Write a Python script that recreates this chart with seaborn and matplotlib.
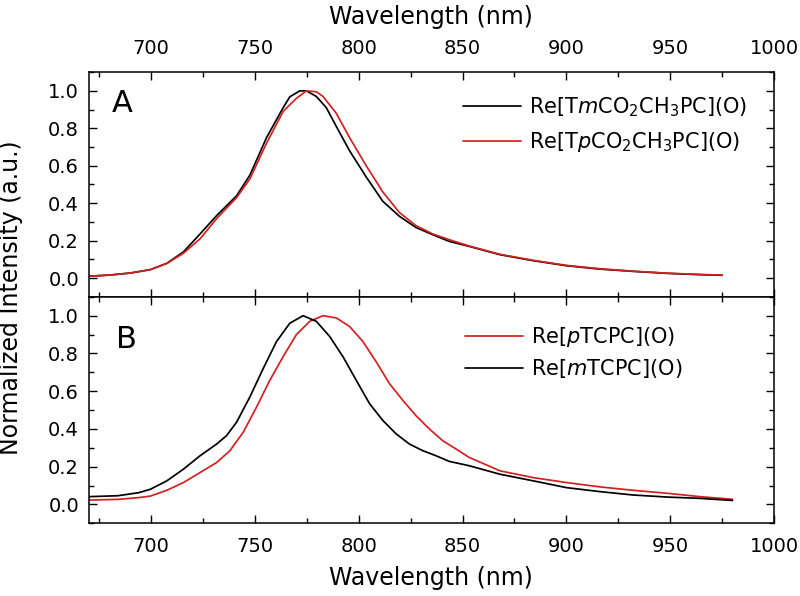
import matplotlib
matplotlib.use("Agg")
import matplotlib.pyplot as plt
from matplotlib.ticker import MultipleLocator, FormatStrFormatter
import seaborn as sns
import pandas as pd

# panel A: ester substituted corroles (normalized emission)
wl_a_meta = [670, 680, 690, 699.6, 707.6, 715.6, 723.6, 731.6, 741.2, 747.6, 755.6,
             763.6, 766.8, 771.6, 774.8, 779.6, 784.4, 789.2, 795.6, 803.6, 811.6,
             819.6, 827.6, 835.6, 843.6, 853, 868, 884, 900, 916, 932, 949, 965, 975]
int_a_meta = [0.01, 0.016, 0.027, 0.045, 0.079, 0.14, 0.236, 0.334, 0.44, 0.55, 0.75,
              0.91, 0.968, 1.0, 1.0, 0.97, 0.91, 0.81, 0.68, 0.54, 0.41,
              0.33, 0.27, 0.232, 0.196, 0.17, 0.125, 0.093, 0.066, 0.048, 0.036, 0.025,
              0.018, 0.015]
wl_a_para = [670, 680, 690, 699.6, 707.6, 715.6, 723.6, 731.6, 741.2, 747.6, 755.6,
             763.6, 770, 774.8, 779.6, 782.8, 789.2, 795.6, 803.6, 811.6, 819.6,
             827.6, 835.6, 843.6, 853, 868, 884, 900, 916, 932, 949, 965, 975]
int_a_para = [0.01, 0.016, 0.027, 0.045, 0.078, 0.133, 0.21, 0.318, 0.43, 0.53, 0.72,
              0.89, 0.96, 1.0, 0.995, 0.97, 0.88, 0.75, 0.60, 0.46, 0.35,
              0.28, 0.236, 0.205, 0.172, 0.127, 0.095, 0.068, 0.05, 0.037, 0.026, 0.019,
              0.016]

# panel B: carboxylic acid corroles
wl_b_meta = [670, 684, 694, 699.6, 707.6, 715.6, 723.6, 731.6, 736.4, 741.2, 747.6,
             754, 760.4, 766.8, 773.2, 779.6, 786, 792.4, 798.8, 805.2, 811.6, 818,
             824.4, 830.8, 837.2, 843.6, 853.2, 868, 884, 900, 916, 932, 948.5, 964.5,
             980]
int_b_meta = [0.041, 0.046, 0.062, 0.08, 0.125, 0.187, 0.258, 0.32, 0.365, 0.436, 0.57,
              0.72, 0.863, 0.96, 1.0, 0.97, 0.89, 0.783, 0.658, 0.534, 0.445, 0.374,
              0.32, 0.285, 0.258, 0.228, 0.205, 0.16, 0.125, 0.089, 0.068, 0.05, 0.039,
              0.032, 0.021]
wl_b_para = [670, 684.5, 694, 699.6, 707.6, 715.6, 723.6, 731.6, 738, 744.4, 750.8,
             757.2, 763.6, 770, 776.4, 782.8, 789.2, 795.6, 802, 808.4, 814.8, 821.2,
             827.6, 834, 840.4, 846.8, 853.2, 868, 884, 900, 916, 932, 948.5, 964.5, 980]
int_b_para = [0.023, 0.027, 0.036, 0.044, 0.075, 0.116, 0.169, 0.222, 0.285, 0.383,
              0.516, 0.658, 0.783, 0.9, 0.97, 1.0, 0.988, 0.943, 0.863, 0.756, 0.64,
              0.552, 0.47, 0.4, 0.338, 0.294, 0.249, 0.178, 0.142, 0.116, 0.093, 0.075,
              0.059, 0.041, 0.027]

lab_a_meta = "Re[T$m$CO$_2$CH$_3$PC](O)"
lab_a_para = "Re[T$p$CO$_2$CH$_3$PC](O)"
lab_b_para = "Re[$p$TCPC](O)"
lab_b_meta = "Re[$m$TCPC](O)"

red = "#d42020"

sns.set_style("ticks")
plt.rcParams["font.family"] = ["DejaVu Sans"]
plt.rcParams["mathtext.fontset"] = "custom"
plt.rcParams["mathtext.rm"] = "DejaVu Sans"
plt.rcParams["mathtext.it"] = "DejaVu Sans:italic"
for key in ["text.color", "axes.labelcolor", "xtick.color", "ytick.color",
            "axes.edgecolor"]:
    plt.rcParams[key] = "black"

df_a = pd.DataFrame({"wl": wl_a_meta + wl_a_para,
                     "val": int_a_meta + int_a_para,
                     "name": [lab_a_meta] * len(wl_a_meta) + [lab_a_para] * len(wl_a_para)})
df_b = pd.DataFrame({"wl": wl_b_para + wl_b_meta,
                     "val": int_b_para + int_b_meta,
                     "name": [lab_b_para] * len(wl_b_para) + [lab_b_meta] * len(wl_b_meta)})

fig = plt.figure(figsize=(8, 5.96), dpi=100)
ax1 = fig.add_axes([0.111, 0.502, 0.8565, 0.377])
ax2 = fig.add_axes([0.111, 0.122, 0.8565, 0.380])

sns.lineplot(data=df_a, x="wl", y="val", hue="name", ax=ax1, linewidth=1.25,
             palette={lab_a_meta: "black", lab_a_para: red}, sort=False)
sns.lineplot(data=df_b, x="wl", y="val", hue="name", ax=ax2, linewidth=1.25,
             palette={lab_b_para: red, lab_b_meta: "black"}, sort=False)

for ax in (ax1, ax2):
    ax.set_xlim(670, 1000)
    ax.set_ylim(-0.1, 1.1)
    ax.xaxis.set_major_locator(MultipleLocator(50))
    ax.xaxis.set_minor_locator(MultipleLocator(25))
    ax.yaxis.set_major_locator(MultipleLocator(0.2))
    ax.yaxis.set_minor_locator(MultipleLocator(0.1))
    ax.yaxis.set_major_formatter(FormatStrFormatter("%.1f"))
    ax.tick_params(which="both", direction="in", top=True, right=True, width=1.0,
                   labelsize=14, colors="black")
    ax.tick_params(which="major", length=6)
    ax.tick_params(which="minor", length=3.5)
    ax.tick_params(axis="y", pad=7)
    ax.tick_params(axis="x", pad=10)
    ax.set_ylabel("")
    for s in ax.spines.values():
        s.set_linewidth(1.1)
        s.set_color("black")

# top panel gets its wavelength axis on top
ax1.tick_params(axis="x", labelbottom=False, labeltop=True)
ax1.xaxis.set_label_position("top")
ax1.set_xlabel("Wavelength (nm)", fontsize=17, labelpad=11)
ax2.set_xlabel("Wavelength (nm)", fontsize=17, labelpad=7)

fig.text(0.014, 0.5, "Normalized Intensity (a.u.)", rotation=90, va="center",
         ha="center", fontsize=17)

ax1.text(0.033, 0.862, "A", transform=ax1.transAxes, fontsize=22, va="center")
ax2.text(0.04, 0.81, "B", transform=ax2.transAxes, fontsize=22, va="center")

ax1.legend(loc="center left", bbox_to_anchor=(0.546, 0.765), frameon=False,
           fontsize=15, borderpad=0, borderaxespad=0, handlelength=2.8,
           handletextpad=0.35, labelspacing=0.55, title=None)
ax2.legend(loc="center left", bbox_to_anchor=(0.549, 0.753), frameon=False,
           fontsize=15, borderpad=0, borderaxespad=0, handlelength=2.8,
           handletextpad=0.35, labelspacing=0.4, title=None)

fig.savefig("out.png", dpi=100)
